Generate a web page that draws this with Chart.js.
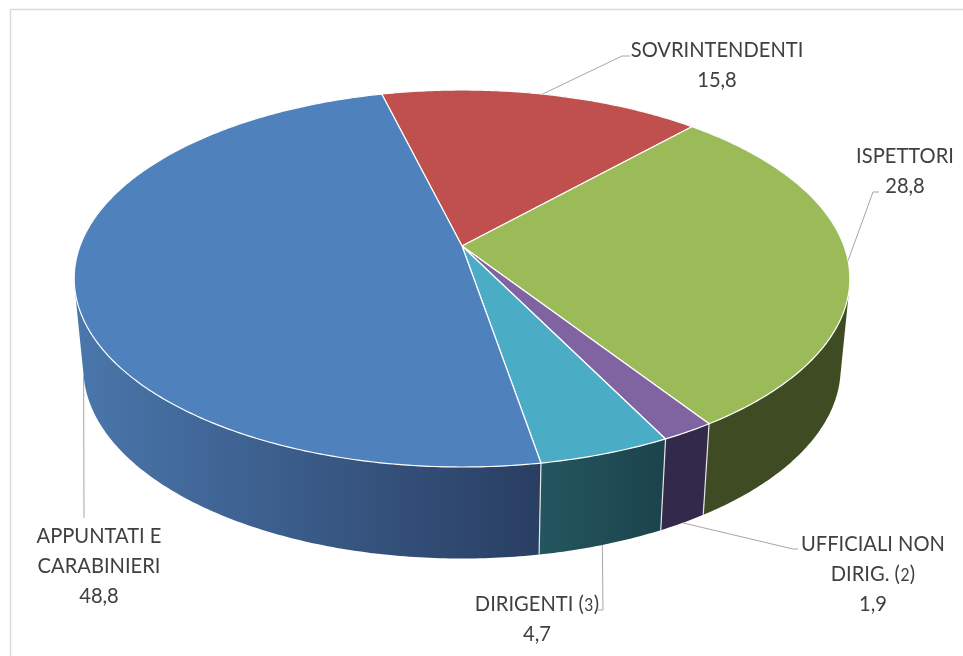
<!DOCTYPE html>
<html>
<head>
<meta charset="utf-8">
<title>Grafico</title>
<script src="https://cdn.jsdelivr.net/npm/chart.js@4/dist/chart.umd.min.js"></script>
<style>
html, body { margin: 0; padding: 0; background: #fff; overflow: hidden; }
canvas { display: block; }
</style>
</head>
<body>
<canvas id="torta" width="963" height="656"></canvas>
<script>
const categorie = ["SOVRINTENDENTI", "ISPETTORI", "UFFICIALI NON DIRIG. (2)", "DIRIGENTI (3)", "APPUNTATI E CARABINIERI"];
const valori = [15.8, 28.8, 1.9, 4.7, 48.8];
const valoriTesto = ["15,8", "28,8", "1,9", "4,7", "48,8"];
const righeEtichette = [
    ["SOVRINTENDENTI"],
    ["ISPETTORI"],
    ["UFFICIALI NON", "DIRIG. (2)"],
    ["DIRIGENTI (3)"],
    ["APPUNTATI E", "CARABINIERI"],
];
const coloriSopra = ["#C0504D", "#9BBB59", "#8064A2", "#4BACC6", "#4F81BD"];
const coloriLato = [
    ["#7a3230", "#7a3230"],
    ["#3f4b22", "#3f4b22"],
    ["#33294a", "#33294a"],
    ["#24565f", "#1c434c"],
    ["#4a77ac", "#293e62"],
];

// prospettiva: il centro del cerchio non coincide col centro dell'ellisse
const K = 0.1724;
const sopra = { x: 462, y: 246, rx: 382, ry: 182.9 };
const sotto = { x: 462, y: 335, rx: 373, ry: 185 };

// posizione delle etichette: centro x, baseline prima riga, gomito e fine della linea guida
const layoutEtichette = [
    { x: 717, y: 57, da: sopra, guida: [[622, 56], [630, 56]] },
    { x: 905, y: 163, da: sopra, guida: [[873, 192], [879, 192]] },
    { x: 873, y: 551, da: sotto, guida: [[793, 549], [798, 549]] },
    { x: 537, y: 611, da: sotto, guida: [[603, 610], [598, 610]] },
    { x: 99, y: 543, da: sotto, guida: [[84, 518]] },
];
const interlinea = 30;
const fontEtichette = '"Lato", sans-serif';
const stringi = 0.915; // Lato e piu largo del carattere originale

function proietta(p, a) {
    const d = 1 - K * Math.sin(a);
    return [p.x + p.rx * Math.cos(a) / d, p.y + p.ry * Math.sin(a) / d];
}

function bordo(p, a, b) {
    const pts = [];
    const n = Math.max(2, Math.ceil(Math.abs(b - a) * 90));
    for (let i = 0; i <= n; i++) pts.push(proietta(p, a + (b - a) * i / n));
    return pts;
}

function traccia(ctx, pts) {
    ctx.beginPath();
    pts.forEach(function (q, i) {
        if (i === 0) ctx.moveTo(q[0], q[1]);
        else ctx.lineTo(q[0], q[1]);
    });
    ctx.closePath();
}

// fianco come somma di quadrilateri, tutti con lo stesso verso, cosi copre anche le tangenti
function tracciaFianco(ctx, a, b) {
    const t = bordo(sopra, a, b), s = bordo(sotto, a, b);
    ctx.beginPath();
    for (let i = 0; i < t.length - 1; i++) {
        let q = [t[i], t[i + 1], s[i + 1], s[i]];
        let area = 0;
        q.forEach(function (p, j) {
            const n = q[(j + 1) % 4];
            area += p[0] * n[1] - n[0] * p[1];
        });
        if (area < 0) q = q.reverse();
        ctx.moveTo(q[0][0], q[0][1]);
        ctx.lineTo(q[1][0], q[1][1]);
        ctx.lineTo(q[2][0], q[2][1]);
        ctx.lineTo(q[3][0], q[3][1]);
        ctx.closePath();
    }
}

function disegnaRiga(ctx, testo, cx, y) {
    ctx.save();
    ctx.translate(cx, y);
    ctx.scale(stringi, 1);
    // le cifre tra parentesi nell'originale sono piu piccole
    const m = testo.match(/^(.*\()(\d)(\))$/);
    if (!m) {
        ctx.textAlign = "center";
        ctx.font = "22px " + fontEtichette;
        ctx.fillText(testo, 0, 0);
    } else {
        ctx.textAlign = "left";
        ctx.font = "22px " + fontEtichette;
        const w1 = ctx.measureText(m[1]).width;
        const w3 = ctx.measureText(m[3]).width;
        ctx.font = "17px " + fontEtichette;
        const w2 = ctx.measureText(m[2]).width + 1;
        const x0 = -(w1 + w2 + w3) / 2;
        ctx.font = "22px " + fontEtichette;
        ctx.fillText(m[1], x0, 0);
        ctx.fillText(m[3], x0 + w1 + w2, 0);
        ctx.font = "17px " + fontEtichette;
        ctx.fillText(m[2], x0 + w1 + 0.5, 0);
    }
    ctx.restore();
}

const torta3d = {
    id: "torta3d",
    beforeDatasetsDraw(chart) {
        const ctx = chart.ctx;
        const archi = chart.getDatasetMeta(0).data;

        // cornice
        ctx.save();
        ctx.strokeStyle = "#dcdcdc";
        ctx.lineWidth = 1.5;
        ctx.beginPath();
        ctx.moveTo(10.5, 656);
        ctx.lineTo(10.5, 9.5);
        ctx.lineTo(963, 9.5);
        ctx.stroke();

        // fianco
        archi.forEach(function (arco, i) {
            const a = arco.startAngle, b = arco.endAngle;
            const xs = bordo(sopra, a, b).concat(bordo(sotto, a, b)).map(function (q) { return q[0]; });
            const grad = ctx.createLinearGradient(Math.min.apply(null, xs), 0, Math.max.apply(null, xs), 0);
            grad.addColorStop(0, coloriLato[i][0]);
            grad.addColorStop(1, coloriLato[i][1]);
            tracciaFianco(ctx, a, b);
            ctx.fillStyle = grad;
            ctx.fill();
        });

        // spigoli verticali visibili
        ctx.strokeStyle = "#e6e6e6";
        ctx.lineWidth = 1.2;
        archi.forEach(function (arco) {
            const a = arco.startAngle;
            if (Math.sin(a) <= 0) return;
            const p1 = proietta(sopra, a), p2 = proietta(sotto, a);
            ctx.beginPath();
            ctx.moveTo(p1[0], p1[1]);
            ctx.lineTo(p2[0], p2[1]);
            ctx.stroke();
        });

        // faccia superiore
        archi.forEach(function (arco) {
            traccia(ctx, [[sopra.x, sopra.y]].concat(bordo(sopra, arco.startAngle, arco.endAngle)));
            ctx.fillStyle = arco.options.backgroundColor;
            ctx.fill();
            ctx.strokeStyle = "#ffffff";
            ctx.lineWidth = 1.2;
            ctx.lineJoin = "round";
            ctx.stroke();
        });

        // linee guida ed etichette
        archi.forEach(function (arco, i) {
            const l = layoutEtichette[i];
            const inizio = proietta(l.da, (arco.startAngle + arco.endAngle) / 2);
            ctx.strokeStyle = "#a6a6a6";
            ctx.lineWidth = 1;
            ctx.beginPath();
            ctx.moveTo(inizio[0], inizio[1]);
            l.guida.forEach(function (q) { ctx.lineTo(q[0], q[1]); });
            ctx.stroke();

            ctx.fillStyle = "#404040";
            ctx.textBaseline = "alphabetic";
            const righe = righeEtichette[i].concat([valoriTesto[i]]);
            righe.forEach(function (r, j) {
                disegnaRiga(ctx, r, l.x, l.y + j * interlinea);
            });
        });
        ctx.restore();
        return false;
    },
};

new Chart(document.getElementById("torta").getContext("2d"), {
    type: "pie",
    data: {
        labels: categorie,
        datasets: [{ data: valori, backgroundColor: coloriSopra, borderColor: "#ffffff" }],
    },
    options: {
        responsive: false,
        animation: false,
        rotation: -14.2,
        plugins: { legend: { display: false }, tooltip: { enabled: false } },
    },
    plugins: [torta3d],
});
</script>
</body>
</html>
